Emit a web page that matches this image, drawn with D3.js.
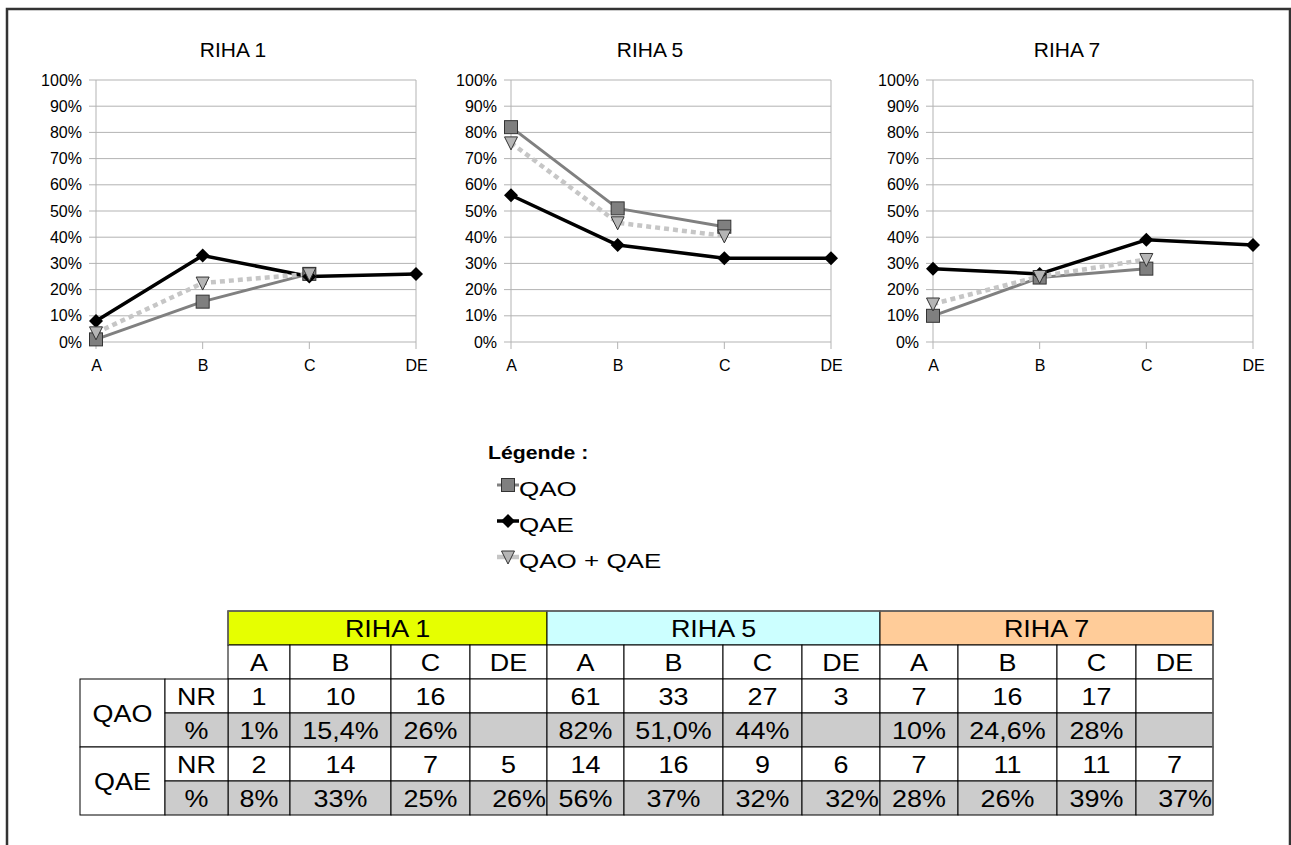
<!DOCTYPE html>
<html><head><meta charset="utf-8">
<script src="https://cdn.jsdelivr.net/npm/d3@7"></script>
<style>
html,body{margin:0;padding:0;background:#fff;}
svg{display:block;font-family:"Liberation Sans",Arial,sans-serif;}
</style></head>
<body><svg id="c" width="1291" height="845"></svg>
<script>
// ---------- DATA ----------
const categories = ["A", "B", "C", "DE"];
const groups = ["RIHA 1", "RIHA 5", "RIHA 7"];
const yTicks = [0, 10, 20, 30, 40, 50, 60, 70, 80, 90, 100];
// percentages plotted
const qaoPct = [[1, 15.4, 26, null], [82, 51.0, 44, null], [10, 24.6, 28, null]];
const qaePct = [[8, 33, 25, 26], [56, 37, 32, 32], [28, 26, 39, 37]];
const bothPct = [[3.5, 22.5, 26, null], [76, 45.5, 40.5, null], [14.5, 25, 31.5, null]];
// table values
const qaoNR = [[1, 10, 16, null], [61, 33, 27, 3], [7, 16, 17, null]];
const qaoPctLabels = [["1%", "15,4%", "26%", ""], ["82%", "51,0%", "44%", ""], ["10%", "24,6%", "28%", ""]];
const qaeNR = [[2, 14, 7, 5], [14, 16, 9, 6], [7, 11, 11, 7]];
const qaePctLabels = [["8%", "33%", "25%", "26%"], ["56%", "37%", "32%", "32%"], ["28%", "26%", "39%", "37%"]];
const seriesNames = ["QAO", "QAE", "QAO + QAE"];
const groupColors = ["#e6ff00", "#ccffff", "#ffcc99"];

// ---------- LAYOUT ----------
const svg = d3.select("#c");
const FONT = '"Liberation Sans", Arial, sans-serif';

function stretchedText(g, x, y, txt, size, sx, anchor, weight) {
  return g.append("text").attr("x", 0).attr("y", 0)
    .attr("transform", `translate(${x},${y}) scale(${sx},1)`)
    .attr("text-anchor", anchor || "start").attr("font-size", size)
    .attr("font-weight", weight || "normal").attr("font-family", FONT).attr("fill", "#000").text(txt);
}

// outer frame
svg.append("path").attr("d", "M7,845 L7,9 L1290,9 L1290,845")
  .attr("fill", "none").attr("stroke", "#333").attr("stroke-width", 2.5);

const plotLefts = [96, 511, 933];
const plotW = 320, plotTop = 80, plotBottom = 342;
const titleX = [233, 650, 1067];

const styles = {
  QAO: {stroke: "#808080", width: 3, dash: null},
  QAE: {stroke: "#000", width: 3.5, dash: null},
  BOTH: {stroke: "#c6c6c6", width: 4.5, dash: "5,4"}
};

function drawMarker(g, type, x, y) {
  if (type === "QAO") {
    g.append("rect").attr("x", x - 6.5).attr("y", y - 6.5).attr("width", 13).attr("height", 13)
      .attr("fill", "#7f7f7f").attr("stroke", "#333").attr("stroke-width", 1);
  } else if (type === "QAE") {
    g.append("path").attr("d", `M${x},${y - 7}L${x + 7},${y}L${x},${y + 7}L${x - 7},${y}Z`)
      .attr("fill", "#000");
  } else {
    g.append("path").attr("d", `M${x - 6.5},${y - 6}L${x + 6.5},${y - 6}L${x},${y + 7}Z`)
      .attr("fill", "#b5b5b5").attr("stroke", "#333").attr("stroke-width", 1);
  }
}

groups.forEach((gname, gi) => {
  const x = d3.scalePoint().domain(categories).range([plotLefts[gi], plotLefts[gi] + plotW]);
  const y = d3.scaleLinear().domain([0, 100]).range([plotBottom, plotTop]);
  const g = svg.append("g");

  g.append("g").selectAll("line").data(yTicks).join("line")
    .attr("x1", plotLefts[gi] - 7).attr("x2", plotLefts[gi] + plotW)
    .attr("y1", d => y(d)).attr("y2", d => y(d))
    .attr("stroke", "#b3b3b3").attr("stroke-width", 1);
  [plotLefts[gi], plotLefts[gi] + plotW].forEach(px => {
    g.append("line").attr("x1", px).attr("x2", px).attr("y1", plotTop).attr("y2", plotBottom)
      .attr("stroke", "#b3b3b3").attr("stroke-width", 1);
  });
  g.append("g").selectAll("line").data(categories).join("line")
    .attr("x1", d => x(d)).attr("x2", d => x(d)).attr("y1", plotBottom).attr("y2", plotBottom + 7)
    .attr("stroke", "#b3b3b3").attr("stroke-width", 1);

  const ya = d3.axisLeft(y).tickValues(yTicks).tickFormat(d => d + "%").tickSize(0).tickPadding(14);
  const yAxisG = g.append("g").attr("transform", `translate(${plotLefts[gi]},0)`).call(ya);
  yAxisG.select(".domain").remove();
  yAxisG.selectAll("text").attr("font-size", 16).attr("font-family", FONT).attr("fill", "#000");

  const xa = d3.axisBottom(x).tickSize(0).tickPadding(18);
  const xAxisG = g.append("g").attr("transform", `translate(0,${plotBottom})`).call(xa);
  xAxisG.select(".domain").remove();
  xAxisG.selectAll("text").attr("font-size", 16).attr("font-family", FONT).attr("fill", "#000");

  stretchedText(g, titleX[gi], 57, gname, 20, 1.05, "middle");

  const line = d3.line().defined(d => d.v != null).x(d => x(d.c)).y(d => y(d.v));
  const mk = arr => categories.map((c, i) => ({c, v: arr[i]}));
  const series = [
    {key: "QAO", data: mk(qaoPct[gi])},
    {key: "QAE", data: mk(qaePct[gi])},
    {key: "BOTH", data: mk(bothPct[gi])}
  ];
  series.forEach(s => {
    const st = styles[s.key];
    g.append("path").datum(s.data).attr("d", line).attr("fill", "none")
      .attr("stroke", st.stroke).attr("stroke-width", st.width)
      .attr("stroke-dasharray", st.dash).attr("stroke-linejoin", "round");
  });
  series.forEach(s => {
    s.data.filter(d => d.v != null).forEach(d => drawMarker(g, s.key, x(d.c), y(d.v)));
  });
});

// ---------- LEGEND ----------
const lg = svg.append("g");
stretchedText(lg, 488, 459, "Légende :", 18, 1.18, "start", "bold");
const legendKeys = ["QAO", "QAE", "BOTH"];
const legY = [485, 521, 557];
legendKeys.forEach((k, i) => {
  const st = styles[k];
  const yy = legY[i];
  lg.append("line").attr("x1", 497).attr("x2", 519).attr("y1", yy).attr("y2", yy)
    .attr("stroke", k === "BOTH" ? "#c6c6c6" : st.stroke).attr("stroke-width", st.width);
  drawMarker(lg, k, 508, yy);
  stretchedText(lg, 519, yy + 11, seriesNames[i], 20, 1.3, "start");
});

// ---------- TABLE ----------
const tb = svg.append("g");
const colX = [228, 290, 391, 470, 547, 624, 723, 802, 880, 958, 1057, 1136, 1213];
const rowY = [611, 645, 679, 713, 747, 781, 815];
const TFS = 23, TSX = 1.17;
function cell(x0, y0, x1, y1, fill, txt, align) {
  tb.append("rect").attr("x", x0).attr("y", y0).attr("width", x1 - x0).attr("height", y1 - y0)
    .attr("fill", fill).attr("stroke", "#000").attr("stroke-width", 1);
  if (txt !== "" && txt != null) {
    const ax = align === "end" ? x1 - 1 : (x0 + x1) / 2;
    stretchedText(tb, ax, (y0 + y1) / 2 + 8.5, txt, TFS, TSX, align || "middle");
  }
}
groups.forEach((gname, gi) => {
  cell(colX[gi * 4], rowY[0], colX[gi * 4 + 4], rowY[1], groupColors[gi], gname);
  categories.forEach((c, ci) => {
    const k = gi * 4 + ci;
    cell(colX[k], rowY[1], colX[k + 1], rowY[2], "#fff", c);
    cell(colX[k], rowY[2], colX[k + 1], rowY[3], "#fff", qaoNR[gi][ci] == null ? "" : String(qaoNR[gi][ci]));
    cell(colX[k], rowY[3], colX[k + 1], rowY[4], "#cccccc", qaoPctLabels[gi][ci]);
    cell(colX[k], rowY[4], colX[k + 1], rowY[5], "#fff", String(qaeNR[gi][ci]));
    cell(colX[k], rowY[5], colX[k + 1], rowY[6], "#cccccc", qaePctLabels[gi][ci], ci === 3 ? "end" : "middle");
  });
});
cell(80, rowY[2], 165, rowY[4], "#fff", "QAO");
cell(165, rowY[2], 228, rowY[3], "#fff", "NR");
cell(165, rowY[3], 228, rowY[4], "#cccccc", "%");
cell(80, rowY[4], 165, rowY[6], "#fff", "QAE");
cell(165, rowY[4], 228, rowY[5], "#fff", "NR");
cell(165, rowY[5], 228, rowY[6], "#cccccc", "%");
tb.append("path").attr("d", `M${colX[0]},${rowY[1]}L${colX[0]},${rowY[0]}L${colX[12]},${rowY[0]}L${colX[12]},${rowY[6]}`)
  .attr("fill", "none").attr("stroke", "#666").attr("stroke-width", 1.5);
</script></body></html>
